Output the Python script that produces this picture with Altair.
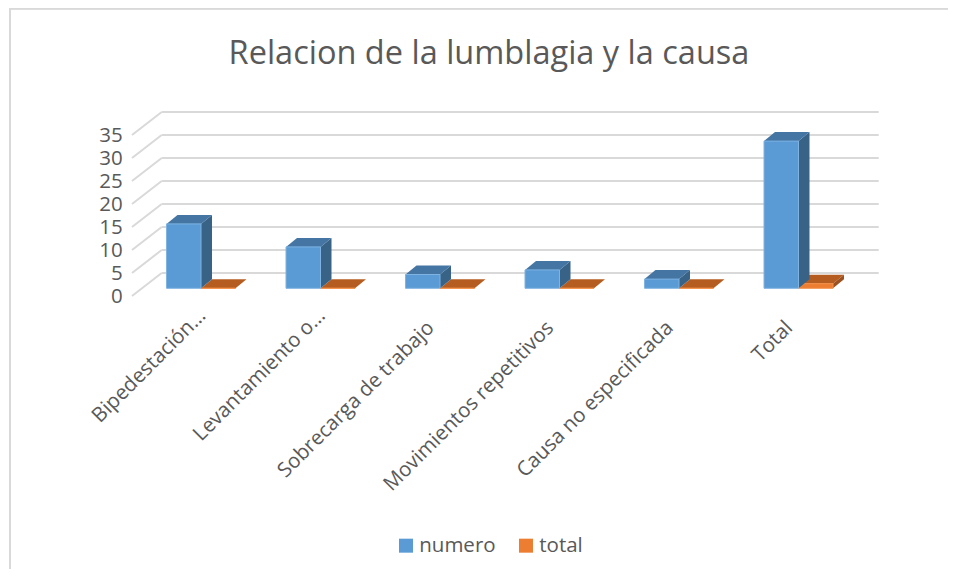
import altair as alt
import pandas as pd

categories = ["Bipedestación…", "Levantamiento o…", "Sobrecarga de trabajo",
              "Movimientos repetitivos", "Causa no especificada", "Total"]
numero = [14, 9, 3, 4, 2, 32]
total = [0, 0, 0, 0, 0, 1]
ticks = [0, 5, 10, 15, 20, 25, 30, 35]
title_text = "Relacion de la lumblagia y la causa"

FONT = "Open Sans"
TEXT = "#595959"
GRID = "#d9d9d9"
PX_PER_UNIT = 161 / 35

rows = [{"cat": c, "serie": "numero", "value": v} for c, v in zip(categories, numero)]
rows += [{"cat": c, "serie": "total", "value": v} for c, v in zip(categories, total)]
df = pd.DataFrame(rows)
tick_df = pd.DataFrame({"t": ticks})

x_enc = alt.X("cat:N", sort=categories,
              scale=alt.Scale(domain=categories, paddingInner=0, paddingOuter=0),
              axis=alt.Axis(title=None, domain=False, ticks=False, labelAngle=-45,
                            labelAlign="right", labelBaseline="middle",
                            labelPadding=alt.condition("datum.index < 0.3", alt.value(24), alt.value(36)),
                            labelOffset=alt.condition("datum.index < 0.3", alt.value(1.5), alt.value(-9)),
                            labelFontSize=20.5, labelFont=FONT,
                            labelColor=TEXT, labelLimit=400, labelOverlap=False))
y_scale = alt.Scale(domain=[0, 35], nice=False, zero=True)
y_axis = alt.Axis(values=ticks, domain=False, ticks=False, grid=False, title=None,
                  labelPadding=19, labelOffset=8, labelFontSize=20.5,
                  labelFont=FONT, labelColor=TEXT, labelFlush=False,
                  labelOverlap=False)
y_plain = alt.Y("value:Q", scale=y_scale, stack=None, axis=y_axis, title=None)
color_enc = alt.Color("serie:N",
                      scale=alt.Scale(domain=["numero", "total"], range=["#5b9bd5", "#ed7d31"]),
                      legend=alt.Legend(orient="none", legendX=254.5, legendY=408,
                                        direction="horizontal", title=None,
                                        symbolType="square", symbolSize=196,
                                        symbolStrokeWidth=0, labelFontSize=20.5,
                                        labelFont=FONT, labelColor=TEXT,
                                        labelOffset=3, columnPadding=20, padding=0))

# 3D wall and side grid lines
back_y = alt.Y("t:Q", scale=y_scale, title=None, axis=y_axis)
wall = alt.Chart(tick_df).mark_rule(color=GRID, strokeWidth=2, yOffset=-15.3).encode(
    x=alt.value(20.45), x2=alt.value(737.45), y=back_y)
side = alt.Chart(tick_df).mark_point(
    shape="M 0 0 L -29.7 23", size=4, filled=False, stroke=GRID, strokeWidth=2,
    opacity=1, yOffset=-15.3).encode(x=alt.value(20.45), y=back_y)

# outer chart frame
frame_left = alt.Chart(tick_df).mark_rule(color=GRID, strokeWidth=2).encode(
    x=alt.value(-131.25), y=alt.value(-119.3), y2=alt.value(442))
frame_top = alt.Chart(tick_df).mark_rule(color=GRID, strokeWidth=2).encode(
    x=alt.value(-131.25), x2=alt.value(806.75), y=alt.value(-119))

base = alt.Chart(df).transform_calculate(h=f"datum.value * {PX_PER_UNIT}")


def series_layers(name, left, right, front_stroke, top_fill, side_fill):
    d = base.transform_filter(alt.datum.serie == name)
    top_path = f"M {left} 0 L {right} 0 L {right + 11} -9 L {left + 11} -9 Z"
    side_d = d.transform_calculate(
        path=f"'M {right} 0 L {right + 11} -9 L {right + 11} ' + (datum.h - 9) + ' L {right} ' + datum.h + ' Z'")
    front = d.mark_bar(size=34.5, xOffset=(left + right) / 2, stroke=front_stroke,
                       strokeWidth=1).encode(x=x_enc, y=y_plain, color=color_enc)
    top = d.mark_point(shape=top_path, size=4, filled=True, fill=top_fill,
                       strokeWidth=0, opacity=1).encode(x=x_enc, y=y_plain)
    sd = side_d.mark_point(size=4, filled=True, fill=side_fill, strokeWidth=0,
                           opacity=1).encode(
        x=x_enc, y=y_plain, shape=alt.Shape("path:N", scale=None, legend=None))
    return [sd, top, front]


orange = series_layers("total", 0, 34.5, "#f4914b", "#b55d20", "#9c5120")
blue = series_layers("numero", -34.5, 0, "#7fb3e2", "#4475a3", "#386387")

chart = alt.layer(wall, side, frame_left, frame_top, *orange, *blue).properties(
    width=717, height=161,
    padding={"left": 133.25, "top": 119.3, "right": 89.75, "bottom": 280.7},
    autosize=alt.AutoSizeParams(type="none"),
    title=alt.TitleParams(title_text, font=FONT, fontSize=32.5, fontWeight="normal",
                          color=TEXT, anchor="middle", frame="group", dx=-10.75,
                          offset=0, dy=63.5),
).configure_view(stroke=None)

chart.save("out.html", embed_options={"renderer": "svg", "actions": False})
